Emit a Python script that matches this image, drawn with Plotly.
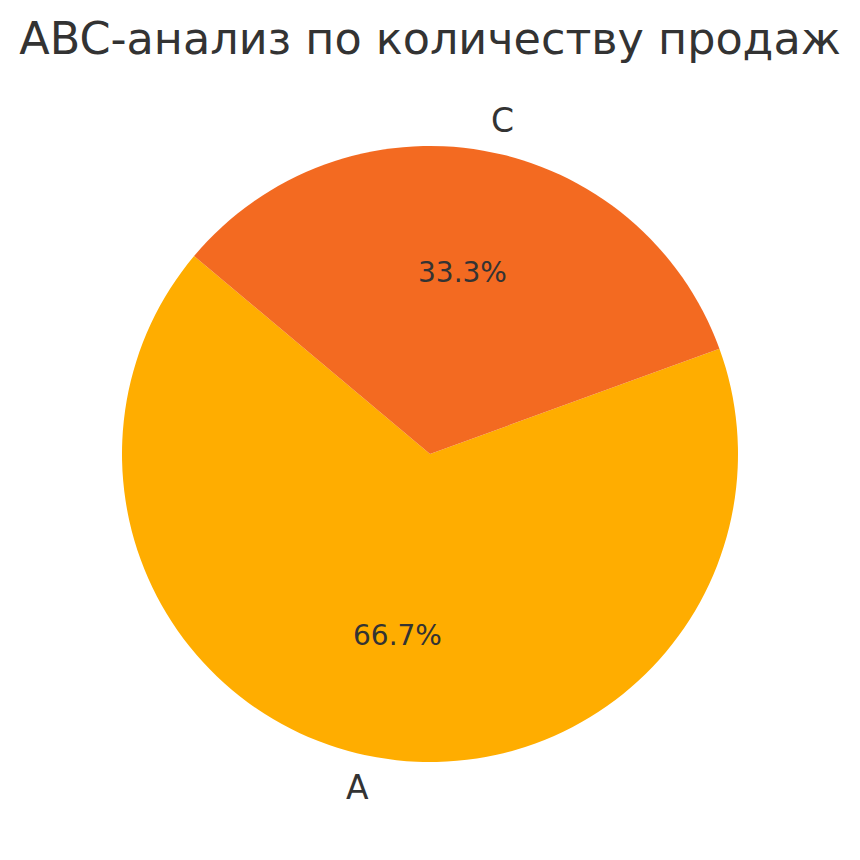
import math
import plotly.graph_objects as go

categories = ["A", "C"]
values = [2, 1]
colors = ["#FFAD00", "#F36A21"]
title_text = "ABC-анализ по количеству продаж"

W = H = 860
OFF = 8  # page body margin compensation
cx_px, cy_px, r_px = 430 - OFF, 454 - OFF, 308
start_angle = 140  # degrees, counterclockwise from 3 o'clock

dom_x = [(cx_px - r_px) / W, (cx_px + r_px) / W]
dom_y = [1 - (cy_px + r_px) / H, 1 - (cy_px - r_px) / H]

total = sum(values)
# plotly (counterclockwise): first slice spans [rotation, rotation + span] measured clockwise from 12 o'clock
rotation = (90 - start_angle) - 360 * values[0] / total

fig = go.Figure(
    go.Pie(
        labels=categories,
        values=values,
        marker=dict(colors=colors, line=dict(width=0)),
        sort=False,
        direction="counterclockwise",
        rotation=rotation,
        textinfo="none",
        hoverinfo="label+percent",
        showlegend=False,
        domain=dict(x=dom_x, y=dom_y),
    )
)

ang = start_angle
annotations = []
for lab, v in zip(categories, values):
    frac = v / total
    mid = math.radians(ang + frac * 360 / 2)
    ang += frac * 360
    px = cx_px + 0.6 * r_px * math.cos(mid)
    py = cy_px - 0.6 * r_px * math.sin(mid)
    annotations.append(dict(
        x=px / W, y=1 - py / H, xref="paper", yref="paper",
        text=f"{frac*100:.1f}%", showarrow=False,
        xanchor="center", yanchor="middle",
        font=dict(size=28, color="#333333", family="DejaVu Sans"),
    ))
    lx = cx_px + 1.1 * r_px * math.cos(mid)
    ly = cy_px - 1.1 * r_px * math.sin(mid)
    annotations.append(dict(
        x=lx / W, y=1 - ly / H, xref="paper", yref="paper",
        text=lab, showarrow=False,
        xanchor="right" if math.cos(mid) < 0 else "left", yanchor="middle",
        font=dict(size=33, color="#333333", family="DejaVu Sans"),
    ))

fig.update_layout(
    width=W, height=H,
    margin=dict(l=0, r=0, t=0, b=0),
    paper_bgcolor="white",
    plot_bgcolor="white",
    title=dict(
        text=title_text, x=(430 - OFF) / W, xanchor="center",
        y=1 - 30 / H, yanchor="middle", yref="container",
        font=dict(size=44.5, color="#333333", family="DejaVu Sans"),
    ),
    annotations=annotations,
)

fig.write_html("out.html")
